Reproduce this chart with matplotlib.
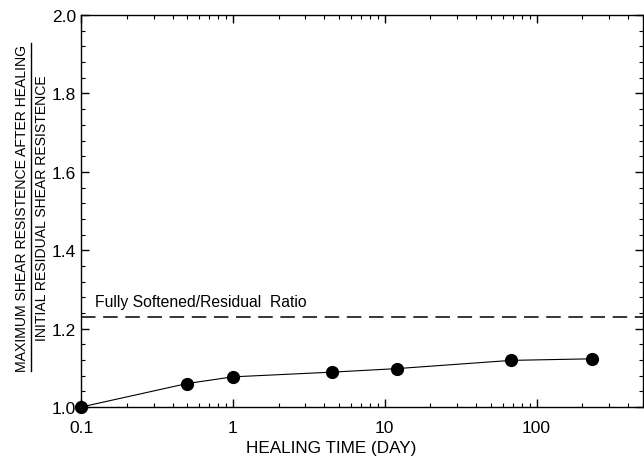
import matplotlib.pyplot as plt
import matplotlib.ticker as mticker
from matplotlib.lines import Line2D

# data
heal_time = [0.1, 0.5, 1, 4.5, 12, 68, 230]   # day
ratio = [1.0, 1.06, 1.077, 1.089, 1.098, 1.119, 1.123]
fully_softened = 1.23

x_ticks = [0.1, 1, 10, 100]
x_labels = ["0.1", "1", "10", "100"]
y_ticks = [1.0, 1.2, 1.4, 1.6, 1.8, 2.0]

plt.rcParams['font.family'] = ['Liberation Sans', 'DejaVu Sans']

fig = plt.figure(figsize=(6.44, 4.60), dpi=100)
ax = fig.add_axes([0.126, 0.113, 0.872, 0.852])

ax.plot(heal_time, ratio, color='k', lw=0.8, marker='o', ms=8.5, clip_on=False, zorder=3)
ax.axhline(fully_softened, color='k', lw=1.1, dashes=(9.5, 5))
ax.text(0.124, 1.268, "Fully Softened/Residual  Ratio", fontsize=11.3, va='center', ha='left')

ax.set_xscale('log')
ax.set_xlim(0.1, 500)
ax.set_ylim(1.0, 2.0)
ax.set_xticks(x_ticks)
ax.set_xticklabels(x_labels)
ax.xaxis.set_minor_locator(mticker.LogLocator(base=10, subs=range(2, 10)))
ax.xaxis.set_minor_formatter(mticker.NullFormatter())
ax.set_yticks(y_ticks)
ax.yaxis.set_major_formatter(mticker.FormatStrFormatter('%.1f'))
ax.yaxis.set_minor_locator(mticker.MultipleLocator(0.04))

ax.tick_params(which='both', direction='in', top=True, right=True, labelsize=12.5)
ax.tick_params(which='major', length=6, width=1)
ax.tick_params(which='minor', length=3, width=0.8)
ax.tick_params(axis='x', pad=9)
for s in ax.spines.values():
    s.set_linewidth(1)

ax.set_xlabel("HEALING TIME (DAY)", fontsize=12.3, labelpad=4)
ax.xaxis.set_label_coords(0.445, -0.085)

# two-line y label written as a fraction
fig.text(22 / 644, 1 - 208 / 460, "MAXIMUM SHEAR RESISTENCE AFTER HEALING",
         rotation=90, ha='center', va='center', fontsize=10.1)
fig.text(42 / 644, 1 - 208 / 460, "INITIAL RESIDUAL SHEAR RESISTENCE",
         rotation=90, ha='center', va='center', fontsize=10.1)
fig.add_artist(Line2D([31 / 644, 31 / 644], [1 - 372 / 460, 1 - 44 / 460],
                      color='k', lw=1, transform=fig.transFigure))

plt.savefig('out.png', dpi=100)
